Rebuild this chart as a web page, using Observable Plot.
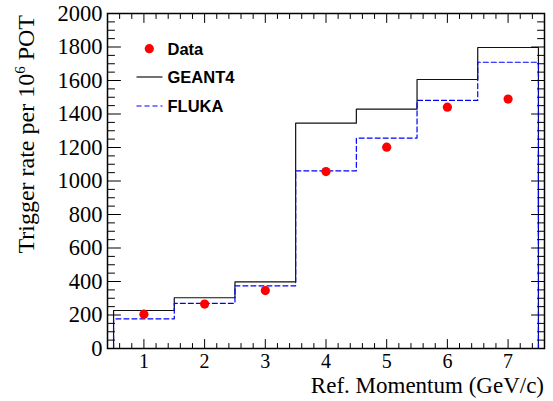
<!DOCTYPE html>
<html><head><meta charset="utf-8">
<script src="https://cdn.jsdelivr.net/npm/d3@7"></script>
<script src="https://cdn.jsdelivr.net/npm/@observablehq/plot@0.6"></script>
<style>body{margin:0;background:#fff}</style>
</head><body><div id="chart"></div>
<script>
// ---- data ----
const momentum   = [1, 2, 3, 4, 5, 6, 7];
const dataRate   = [205, 265, 346, 1056, 1202, 1441, 1489];
const geant4Rate = [227, 303, 398, 1345, 1429, 1606, 1797];
const flukaRate  = [177, 270, 374, 1061, 1256, 1481, 1709];
const xMajorTicks = [1, 2, 3, 4, 5, 6, 7];
const yMajorTicks = [0, 200, 400, 600, 800, 1000, 1200, 1400, 1600, 1800, 2000];
const xMinorTicks = d3.range(3, 38).filter(i => i % 5 !== 0).map(i => i / 5);
const yMinorTicks = d3.range(0, 2001, 50).filter(v => v % 200 !== 0);
const legendItems = ["Data", "GEANT4", "FLUKA"];

// step outline of a histogram with unit-wide bins centred on momentum
function stepPoints(values) {
  const pts = [{x: momentum[0] - 0.5, y: 0}];
  momentum.forEach((m, i) => {
    pts.push({x: m - 0.5, y: values[i]});
    pts.push({x: m + 0.5, y: values[i]});
  });
  pts.push({x: momentum[momentum.length - 1] + 0.5, y: 0});
  return pts;
}
const points = momentum.map((m, i) => ({x: m, y: dataRate[i]}));

const SERIF = "Liberation Serif";
const tickShape = {draw(ctx, l) { ctx.moveTo(0, 0); ctx.lineTo(0, -l); }};
const tk = (fn, vals, opts) => fn(vals, {shape: tickShape, anchor: "start", stroke: "black", strokeWidth: 1, ...opts});

const W = 553, H = 401;
const svg = Plot.plot({
  width: W, height: H,
  marginLeft: 107, marginRight: 9, marginTop: 13, marginBottom: 53,
  style: {fontFamily: SERIF, background: "#fff", color: "black", overflow: "visible"},
  x: {domain: [0.4, 7.6], axis: null},
  y: {domain: [0, 2000], axis: null},
  marks: [
    Plot.line(stepPoints(geant4Rate), {x: "x", y: "y", stroke: "#111", strokeWidth: 1.2}),
    Plot.line(stepPoints(flukaRate), {x: "x", y: "y", stroke: "#0000ff", strokeWidth: 1.2, strokeDasharray: "5,3"}),
    Plot.dot(points, {x: "x", y: "y", r: 4.6, fill: "#ff0000", stroke: "none"}),
    // inward ticks
    tk(Plot.vectorX, xMajorTicks, {x: d => d, frameAnchor: "bottom", length: 9, rotate: 0}),
    tk(Plot.vectorX, xMinorTicks, {x: d => d, frameAnchor: "bottom", length: 5, rotate: 0}),
    tk(Plot.vectorX, xMajorTicks, {x: d => d, frameAnchor: "top", length: 9, rotate: 180}),
    tk(Plot.vectorX, xMinorTicks, {x: d => d, frameAnchor: "top", length: 5, rotate: 180}),
    tk(Plot.vectorY, yMajorTicks, {y: d => d, frameAnchor: "left", length: 13, rotate: 90}),
    tk(Plot.vectorY, yMinorTicks, {y: d => d, frameAnchor: "left", length: 7, rotate: 90}),
    tk(Plot.vectorY, yMajorTicks, {y: d => d, frameAnchor: "right", length: 13, rotate: -90}),
    tk(Plot.vectorY, yMinorTicks, {y: d => d, frameAnchor: "right", length: 7, rotate: -90}),
    // tick labels
    Plot.text(xMajorTicks, {x: d => d, text: d => String(d), frameAnchor: "bottom", lineAnchor: "top", dy: 5,
      fontSize: 20, fontFamily: SERIF, fill: "black"}),
    Plot.text(yMajorTicks, {y: d => d, text: d => String(d), frameAnchor: "left", textAnchor: "end", dx: -5,
      fontSize: 22.5, fontFamily: SERIF, fill: "black"}),
    Plot.frame({stroke: "black", strokeWidth: 1.5})
  ]
});
document.getElementById("chart").appendChild(svg);

const s = d3.select(svg);
s.selectAll("text").attr("font-family", SERIF).style("font-variant", "normal");

// axis titles
s.append("text")
  .attr("x", 544).attr("y", 393)
  .attr("text-anchor", "end")
  .style("font-family", SERIF)
  .attr("font-size", 23)
  .attr("fill", "black")
  .text("Ref. Momentum (GeV/c)");
const yt = s.append("text")
  .attr("transform", "translate(33.5,15) rotate(-90)")
  .attr("text-anchor", "end")
  .style("font-family", SERIF)
  .attr("font-size", 24)
  .attr("fill", "black");
yt.append("tspan").text("Trigger rate per 10");
yt.append("tspan").attr("font-size", 15).attr("dy", -9).text("6");
yt.append("tspan").attr("dy", 9).text(" POT");

// legend
const lg = s.append("g")
  .attr("font-weight", "bold").attr("font-size", 16.5).attr("fill", "black")
  .attr("text-anchor", "start");
const rowY = [48.7, 77, 106];
legendItems.forEach((name, i) => {
  const y = rowY[i];
  if (i === 0) lg.append("circle").attr("cx", 149.3).attr("cy", y).attr("r", 4.6).attr("fill", "#ff0000");
  else lg.append("line").attr("x1", 136.5).attr("x2", 162.5).attr("y1", y).attr("y2", y)
    .attr("stroke", i === 1 ? "#111" : "#0000ff").attr("stroke-width", 1.2)
    .attr("stroke-dasharray", i === 2 ? "5,3" : null);
  lg.append("text").attr("x", 167.5).attr("y", y + 5.8).attr("text-anchor", "start")
    .style("font-family", "Liberation Sans").text(name);
});
</script>
</body></html>
